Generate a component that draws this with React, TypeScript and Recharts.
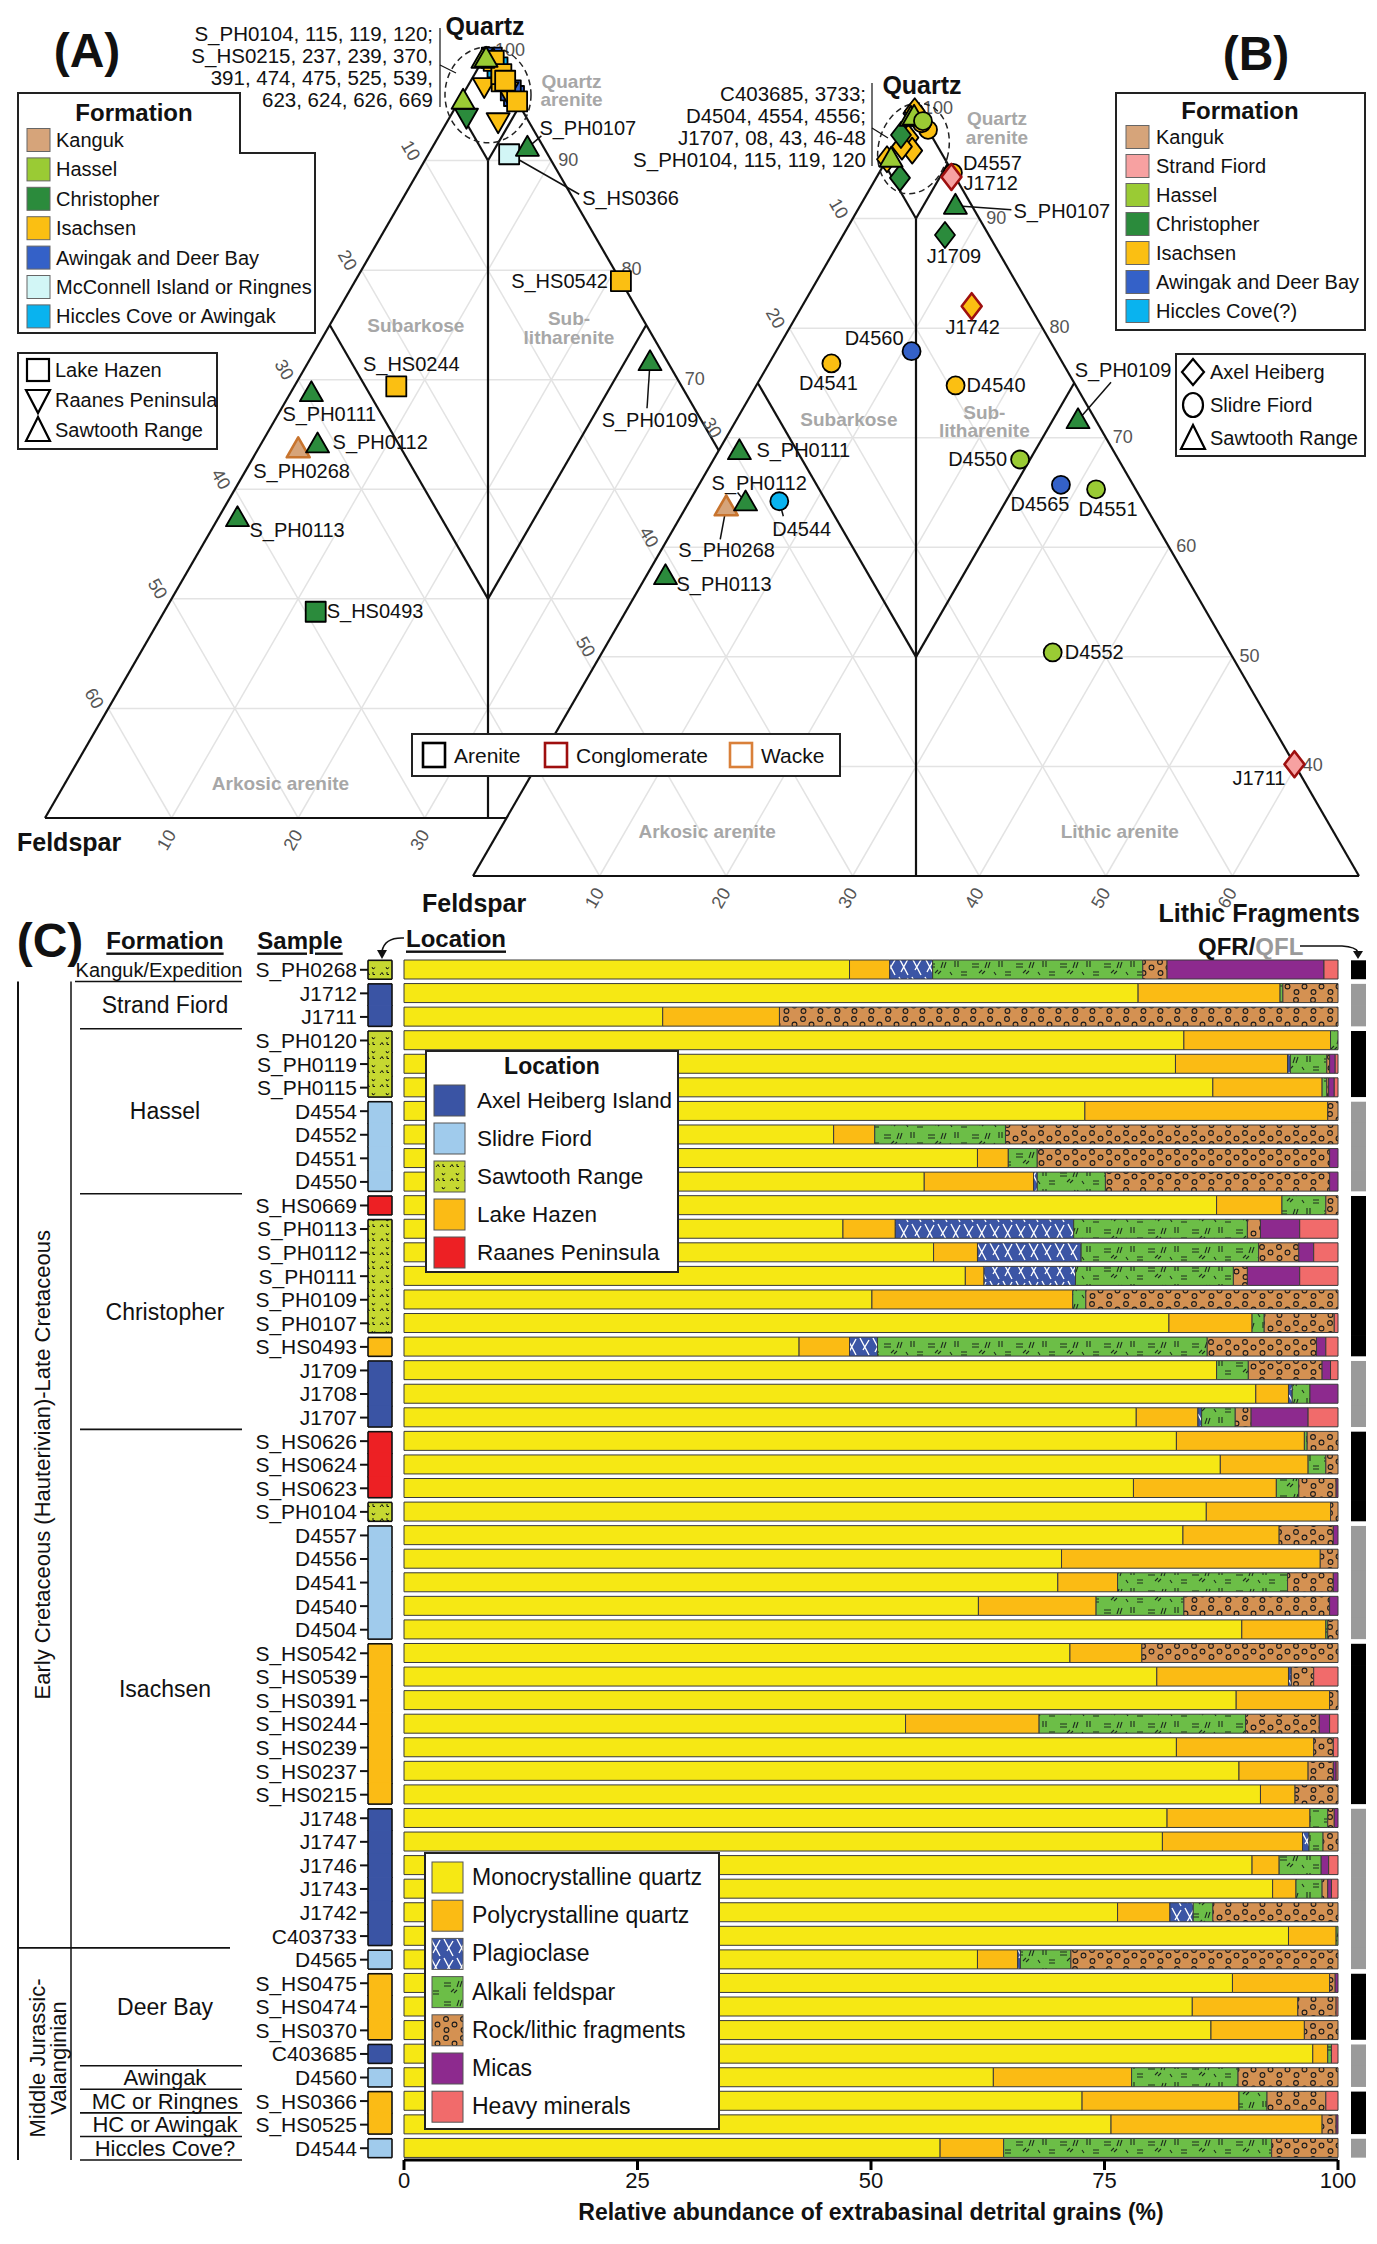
import React from "react";
import { BarChart, Bar, XAxis, YAxis, ComposedChart, Scatter, ReferenceLine, Area } from "recharts";

const FONT = "'Liberation Sans', Arial, Helvetica, sans-serif";

// ---------- panel C: samples, top to bottom ----------
const samples = [
  "S_PH0268", "J1712", "J1711", "S_PH0120", "S_PH0119", "S_PH0115", "D4554", "D4552", "D4551", "D4550",
  "S_HS0669", "S_PH0113", "S_PH0112", "S_PH0111", "S_PH0109", "S_PH0107", "S_HS0493", "J1709", "J1708", "J1707",
  "S_HS0626", "S_HS0624", "S_HS0623", "S_PH0104", "D4557", "D4556", "D4541", "D4540", "D4504", "S_HS0542",
  "S_HS0539", "S_HS0391", "S_HS0244", "S_HS0239", "S_HS0237", "S_HS0215", "J1748", "J1747", "J1746", "J1743",
  "J1742", "C403733", "D4565", "S_HS0475", "S_HS0474", "S_HS0370", "C403685", "D4560", "S_HS0366", "S_HS0525",
  "D4544",
];

// AH Axel Heiberg, SF Slidre Fiord, SR Sawtooth Range, LH Lake Hazen, RP Raanes Peninsula
const locations = [
  "SR", "AH", "AH", "SR", "SR", "SR", "SF", "SF", "SF", "SF",
  "RP", "SR", "SR", "SR", "SR", "SR", "LH", "AH", "AH", "AH",
  "RP", "RP", "RP", "SR", "SF", "SF", "SF", "SF", "SF", "LH",
  "LH", "LH", "LH", "LH", "LH", "LH", "AH", "AH", "AH", "AH",
  "AH", "AH", "SF", "LH", "LH", "LH", "AH", "SF", "LH", "LH",
  "SF",
];

const qfType = [
  "R", "L", "L", "R", "R", "R", "L", "L", "L", "L",
  "R", "R", "R", "R", "R", "R", "R", "L", "L", "L",
  "R", "R", "R", "R", "L", "L", "L", "L", "L", "R",
  "R", "R", "R", "R", "R", "R", "L", "L", "L", "L",
  "L", "L", "L", "R", "R", "R", "L", "L", "R", "R",
  "L",
];

const mono = [
  47.7, 78.6, 27.7, 83.5, 82.6, 86.6, 72.9, 46.0, 61.4, 55.7,
  87.0, 47.0, 56.7, 60.1, 50.1, 81.9, 42.3, 87.0, 91.2, 78.4,
  82.7, 87.4, 78.1, 85.9, 83.4, 70.4, 70.0, 61.5, 89.7, 71.3,
  80.6, 89.1, 53.7, 82.7, 89.4, 91.7, 81.7, 81.2, 90.8, 93.0,
  76.4, 94.7, 61.4, 88.7, 84.4, 86.4, 97.3, 63.1, 72.6, 75.7,
  57.4,
];
const poly = [
  4.3, 15.2, 12.5, 15.7, 12.0, 11.7, 26.0, 4.4, 3.3, 11.7,
  7.0, 5.6, 4.7, 2.0, 21.5, 8.9, 5.4, 0, 3.5, 6.6,
  13.7, 9.4, 15.3, 13.3, 10.3, 27.7, 6.4, 12.6, 9.0, 7.7,
  14.1, 10.0, 14.3, 14.7, 7.4, 3.7, 15.3, 15.0, 2.9, 2.5,
  5.6, 5.1, 4.3, 10.4, 11.3, 10.0, 1.6, 14.8, 16.8, 22.6,
  6.8,
];
const plag = [
  4.6, 0, 0, 0, 0.3, 0, 0, 0, 0, 0.4,
  0, 19.1, 11.1, 9.8, 0, 0, 3.0, 0, 0.4, 0.4,
  0, 0, 0, 0, 0, 0, 0, 0, 0, 0,
  0.3, 0, 0, 0, 0, 0, 0, 0.7, 0, 0,
  2.5, 0, 0.3, 0, 0, 0, 0, 0, 0, 0,
  0,
];
const alk = [
  22.5, 0.3, 0, 0.8, 3.9, 0.5, 0, 14.0, 3.1, 7.3,
  4.7, 18.6, 19.0, 16.9, 1.4, 1.3, 35.3, 3.4, 1.9, 3.6,
  0.3, 1.9, 2.4, 0, 0, 0, 18.2, 9.4, 0.2, 0,
  0, 0, 22.1, 0, 0, 0, 1.9, 1.5, 4.5, 2.8,
  2.1, 0.2, 5.4, 0, 0, 0, 0.4, 11.4, 3.0, 0,
  28.7,
];
const rock = [
  2.6, 5.9, 59.8, 0, 0.3, 0.2, 1.1, 35.6, 31.3, 24.0,
  1.3, 1.4, 4.3, 1.5, 27.0, 7.5, 11.7, 7.9, 0, 1.7,
  3.3, 1.3, 4.0, 0.8, 5.8, 1.9, 4.9, 15.6, 1.1, 21.0,
  2.4, 0.9, 7.9, 2.1, 2.7, 4.6, 0.7, 1.6, 0, 0.6,
  13.4, 0, 28.6, 0.6, 4.1, 3.6, 0, 10.7, 6.3, 1.5,
  7.1,
];
const mica = [
  16.8, 0, 0, 0, 0.6, 0.6, 0, 0, 0.9, 0.9,
  0, 4.2, 1.6, 5.6, 0, 0, 1.0, 0.9, 3.0, 6.1,
  0, 0, 0.2, 0, 0.5, 0, 0.5, 0.9, 0, 0,
  0, 0, 1.1, 0, 0.3, 0, 0.4, 0, 0.8, 0.4,
  0, 0, 0, 0.3, 0, 0, 0, 0, 0, 0.2,
  0,
];
const heavy = [
  1.5, 0, 0, 0, 0.3, 0.4, 0, 0, 0, 0,
  0, 4.1, 2.6, 4.1, 0, 0.4, 1.3, 0.8, 0, 3.2,
  0, 0, 0, 0, 0, 0, 0, 0, 0, 0,
  2.6, 0, 0.9, 0.5, 0.2, 0, 0, 0, 1.0, 0.7,
  0, 0, 0, 0, 0.2, 0, 0.7, 0, 1.3, 0,
  0,
];

// formation name, first row, last row
const formations: [string, number, number][] = [
  ["Kanguk/Expedition", 0, 0],
  ["Strand Fiord", 1, 2],
  ["Hassel", 3, 9],
  ["Christopher", 10, 19],
  ["Isachsen", 20, 41],
  ["Deer Bay", 42, 46],
  ["Awingak", 47, 47],
  ["MC or Ringnes", 48, 48],
  ["HC or Awingak", 49, 49],
  ["Hiccles Cove?", 50, 50],
];

const xTicks = [0, 25, 50, 75, 100];

const minerals = [
  { key: "mono", name: "Monocrystalline quartz", fill: "#f6e814", vals: mono },
  { key: "poly", name: "Polycrystalline quartz", fill: "#fbbb14", vals: poly },
  { key: "plag", name: "Plagioclase", fill: "url(#plag)", vals: plag },
  { key: "alk", name: "Alkali feldspar", fill: "url(#alk)", vals: alk },
  { key: "rock", name: "Rock/lithic fragments", fill: "url(#rock)", vals: rock },
  { key: "mica", name: "Micas", fill: "#8d2a8e", vals: mica },
  { key: "heavy", name: "Heavy minerals", fill: "#f16b6b", vals: heavy },
];

const LOC_FILL: Record<string, string> = { AH: "#3a54a4", SF: "#a0cbec", SR: "url(#saw)", LH: "#fbbb15", RP: "#ed2024" };
const LOC_NAME: [string, string][] = [["AH", "Axel Heiberg Island"], ["SF", "Slidre Fiord"], ["SR", "Sawtooth Range"], ["LH", "Lake Hazen"], ["RP", "Raanes Peninsula"]];
const QF_FILL: Record<string, string> = { R: "#000", L: "#9a9a9a" };

// ---------- ternary panels ----------
const FORM_KEY: Record<string, string> = {
  "Kanguk/Expedition": "Kanguk", "Strand Fiord": "Strand Fiord", Hassel: "Hassel", Christopher: "Christopher",
  Isachsen: "Isachsen", "Deer Bay": "Awingak and Deer Bay", Awingak: "Awingak and Deer Bay",
  "MC or Ringnes": "McConnell Island or Ringnes", "HC or Awingak": "Hiccles Cove or Awingak", "Hiccles Cove?": "Hiccles Cove(?)",
};
const FORM_COLOR: Record<string, string> = {
  Kanguk: "#d6a47a", "Strand Fiord": "#f7a1a1", Hassel: "#9acb34", Christopher: "#2b8b3c", Isachsen: "#fbbf12",
  "Awingak and Deer Bay": "#3461c8", "McConnell Island or Ringnes": "#d2f6f6", "Hiccles Cove or Awingak": "#09b3ef", "Hiccles Cove(?)": "#09b3ef",
};
// which formations are drawn on top where symbols pile up
const DRAW_ORDER: Record<string, number> = {
  "Awingak and Deer Bay": 0, "Hiccles Cove or Awingak": 0, "Hiccles Cove(?)": 0, "McConnell Island or Ringnes": 0,
  Isachsen: 1, Christopher: 2, Kanguk: 2, Hassel: 3, "Strand Fiord": 3,
};
const legendFormA = ["Kanguk", "Hassel", "Christopher", "Isachsen", "Awingak and Deer Bay", "McConnell Island or Ringnes", "Hiccles Cove or Awingak"];
const legendFormB = ["Kanguk", "Strand Fiord", "Hassel", "Christopher", "Isachsen", "Awingak and Deer Bay", "Hiccles Cove(?)"];

const conglomerate = ["J1712", "J1711", "J1742"];
const wacke = ["S_PH0268"];
const panelALocs = ["LH", "RP", "SR"];
const panelBLocs = ["AH", "SF", "SR"];
const gridLevels = [10, 20, 30, 40, 50, 60];
// tick labels shown on each panel (the rest of panel A lies under panel B)
const ticksA = { F: [10, 20, 30, 40, 50, 60], Q: [100, 90, 80, 70], L: [10, 20, 30] };
const ticksB = { F: [10, 20, 30, 40, 50], Q: [100, 90, 80, 70, 60, 50, 40], L: [10, 20, 30, 40, 50, 60] };

const listA = ["S_PH0104, 115, 119, 120;", "S_HS0215, 237, 239, 370,", "391, 474, 475, 525, 539,", "623, 624, 626, 669"];
const listB = ["C403685, 3733;", "D4504, 4554, 4556;", "J1707, 08, 43, 46-48", "S_PH0104, 115, 119, 120"];

// label offsets (px) per sample: dx, dy, anchor, leader end dx, dy
const labelA: Record<string, any[]> = {
  S_PH0107: [12, -20, "start", 14, -12],
  S_HS0366: [73, 44, "start", 70, 40],
  S_HS0542: [-13, 0, "end"],
  S_HS0244: [15, -22, "middle"],
  S_PH0109: [0, 58, "middle", -3, 46],
  S_PH0111: [-29, 21, "start"],
  S_PH0112: [15, -2, "start"],
  S_PH0268: [-45, 22, "start"],
  S_PH0113: [12, 12, "start"],
  S_HS0493: [11, -1, "start"],
};
const labelB: Record<string, any[]> = {
  D4557: [10, -10, "start"],
  J1712: [12, 6, "start"],
  S_PH0107: [58, 5, "start", 56, 4],
  J1709: [9, 21, "middle"],
  J1742: [1, 21, "middle"],
  D4560: [-8, -13, "end"],
  D4541: [-3, 20, "middle"],
  D4540: [11, 0, "start"],
  S_PH0109: [45, -50, "middle", 33, -38],
  D4550: [-13, 0, "end"],
  D4565: [-21, 19, "middle"],
  D4551: [12, 20, "middle"],
  S_PH0111: [17, -1, "start"],
  S_PH0112: [-34, -19, "start", -8, -10],
  S_PH0268: [-48, 43, "start", -6, 32],
  D4544: [-7, 28, "start", 4, 15],
  S_PH0113: [11, 8, "start"],
  D4552: [12, 0, "start"],
  J1711: [-9, 14, "end"],
};

// ternary -> cartesian
const S3 = Math.sqrt(3) / 2;
const TX = (q: number, l: number) => l + q / 2;
const TY = (q: number) => q * S3;
const P = (q: number, f: number, l: number) => ({ x: TX(q, l), y: TY(q) });

const fieldsA = [
  { t: ["Quartz", "arenite"], x: 56.6, y: 83.5 },
  { t: ["Subarkose"], x: 44.3, y: 64.9 },
  { t: ["Sub-", "litharenite"], x: 56.4, y: 64.7 },
  { t: ["Arkosic arenite"], x: 33.6, y: 28.7 },
];
const fieldsB = [
  { t: ["Quartz", "arenite"], x: 56.4, y: 85.1 },
  { t: ["Subarkose"], x: 44.7, y: 62.1 },
  { t: ["Sub-", "litharenite"], x: 55.4, y: 61.9 },
  { t: ["Arkosic arenite"], x: 33.5, y: 29.5 },
  { t: ["Lithic arenite"], x: 66.1, y: 29.5 },
];

const edges = [[P(100, 0, 0), P(30, 70, 0)], [P(100, 0, 0), P(30, 0, 70)], [P(30, 70, 0), P(30, 0, 70)]];
const fieldLines = [
  [P(95, 5, 0), P(90, 5, 5)], [P(95, 0, 5), P(90, 5, 5)], [P(90, 5, 5), P(30, 35, 35)],
  [P(75, 25, 0), P(50, 25, 25)], [P(75, 0, 25), P(50, 25, 25)],
];
const gridSegs: any[] = [];
gridLevels.forEach((v) => {
  gridSegs.push([P(100 - v, v, 0), P(100 - v, 0, v)]);
  gridSegs.push([P(100 - v, v, 0), P(30, v, 70 - v)]);
  gridSegs.push([P(100 - v, 0, v), P(30, 70 - v, v)]);
});
const tickDataOf = (tk: { F: number[]; Q: number[]; L: number[] }) => [
  ...tk.F.map((v) => ({ ...P(100 - v, v, 0), t: v, k: "F" })),
  ...tk.Q.map((v) => ({ ...P(v, 0, 100 - v), t: v, k: "Q" })),
  ...tk.L.map((v) => ({ ...P(30, 70 - v, v), t: v, k: "L" })),
];
const coverData = [P(30, 70, 0), P(100, 0, 0), P(30, 0, 70)];

const formationOfRow = (i: number) => formations.find(([, a, b]) => i >= a && i <= b)![0];
const ternPoints = (locs: string[]) =>
  samples
    .map((s, i) => ({ s, i }))
    .filter(({ i }) => locs.includes(locations[i]))
    .map(({ s, i }) => {
      const q = mono[i] + poly[i];
      const f = plag[i] + alk[i];
      const l = rock[i];
      const sum = q + f + l;
      const Q = (q / sum) * 100;
      const L = (l / sum) * 100;
      return {
        s, loc: locations[i], fm: FORM_KEY[formationOfRow(i)],
        rk: conglomerate.includes(s) ? "C" : wacke.includes(s) ? "W" : "A",
        x: TX(Q, L), y: TY(Q),
      };
    })
    .sort((a, b) => DRAW_ORDER[a.fm] - DRAW_ORDER[b.fm]);

const Marker = (p: any) => {
  const { cx, cy, payload: d } = p;
  const fill = FORM_COLOR[d.fm];
  const stroke = d.rk === "C" ? "#9e0f0f" : d.rk === "W" ? "#c8742e" : "#000";
  const sw = d.rk === "A" ? 1.8 : 2.6;
  const common = { fill, stroke, strokeWidth: sw, strokeLinejoin: "round" as const };
  if (d.loc === "LH") return <rect x={cx - 10} y={cy - 10} width={20} height={20} {...common} />;
  if (d.loc === "RP") return <polygon points={`${cx - 11.5},${cy - 8} ${cx + 11.5},${cy - 8} ${cx},${cy + 12}`} {...common} />;
  if (d.loc === "SR") return <polygon points={`${cx},${cy - 12} ${cx - 11.5},${cy + 8} ${cx + 11.5},${cy + 8}`} {...common} />;
  if (d.loc === "AH") return <polygon points={`${cx},${cy - 13} ${cx + 10},${cy} ${cx},${cy + 13} ${cx - 10},${cy}`} {...common} />;
  return <circle cx={cx} cy={cy} r={9} {...common} />;
};

const makeLabel = (spec: Record<string, any[]>) => (p: any) => {
  const { cx, cy, payload: d } = p;
  const sp = spec[d.s];
  if (!sp) return <g />;
  return (
    <g>
      {sp.length > 3 && <line x1={cx} y1={cy} x2={cx + sp[3]} y2={cy + sp[4]} stroke="#111" strokeWidth={1.5} />}
      <text x={cx + sp[0]} y={cy + sp[1]} textAnchor={sp[2]} dominantBaseline="central" fontSize={20} fontFamily={FONT} fill="#111">
        {d.s}
      </text>
    </g>
  );
};

const TickText = (p: any) => {
  const { cx, cy, payload: d } = p;
  const st = { fontSize: 18, fill: "#555", fontFamily: FONT };
  if (d.k === "F") {
    const x = cx - 14, y = cy - 10;
    return <text x={x} y={y} transform={`rotate(60 ${x} ${y})`} textAnchor="middle" dominantBaseline="central" {...st}>{d.t}</text>;
  }
  if (d.k === "Q") return <text x={cx + 7} y={cy - 1} textAnchor="start" dominantBaseline="central" {...st}>{d.t}</text>;
  const x = cx - 5, y = cy + 22;
  return <text x={x} y={y} transform={`rotate(-60 ${x} ${y})`} textAnchor="middle" dominantBaseline="central" {...st}>{d.t}</text>;
};

const FieldText = (p: any) => {
  const { cx, cy, payload: d } = p;
  const n = d.t.length;
  return (
    <text x={cx} y={cy} textAnchor="middle" fontSize={19} fontWeight={700} fill="#a7a7a7" fontFamily={FONT}>
      {d.t.map((s: string, k: number) => (
        <tspan key={k} x={cx} y={cy + (k - (n - 1) / 2) * 18.5} dominantBaseline="central">{s}</tspan>
      ))}
    </text>
  );
};

const EllipseShape = (p: any) => {
  const { cx, cy, payload: d } = p;
  return <ellipse cx={cx} cy={cy} rx={d.rx} ry={d.ry} transform={`rotate(${d.rot} ${cx} ${cy})`} fill="none" stroke="#222" strokeWidth={1.5} strokeDasharray="6 4" />;
};

function Ternary({ pts, labels, fields, ticks, ell, cover, W, H, margin }: any) {
  return (
    <ComposedChart width={W} height={H} margin={margin}>
      <XAxis type="number" dataKey="x" domain={[15, 85]} hide />
      <YAxis type="number" dataKey="y" domain={[TY(30), TY(100)]} hide />
      {cover && (
        <Area data={coverData} dataKey="y" type="linear" stroke="none" fill="#ffffff" fillOpacity={1} baseValue="dataMin" isAnimationActive={false} />
      )}
      {gridSegs.map((s: any, k: number) => (
        <ReferenceLine key={"g" + k} segment={s} stroke="#e3e3e3" strokeWidth={1.5} ifOverflow="visible" />
      ))}
      {[...edges, ...fieldLines].map((s: any, k: number) => (
        <ReferenceLine key={"e" + k} segment={s} stroke="#111" strokeWidth={2.2} ifOverflow="visible" />
      ))}
      <Scatter data={fields} dataKey="y" shape={FieldText} isAnimationActive={false} />
      <Scatter data={tickDataOf(ticks)} dataKey="y" shape={TickText} isAnimationActive={false} />
      <Scatter data={[ell]} dataKey="y" shape={EllipseShape} isAnimationActive={false} />
      <Scatter data={pts.filter((d: any) => labels[d.s])} dataKey="y" shape={makeLabel(labels)} isAnimationActive={false} />
      <Scatter data={pts} dataKey="y" shape={Marker} isAnimationActive={false} />
    </ComposedChart>
  );
}

// ---------- panel C geometry ----------
const C_TOP = 900;
const C_H = 2244 - C_TOP;
const ROW_TOP = 958;
const ROW_BOTTOM = 2160;
const ROW_H = (ROW_BOTTOM - ROW_TOP) / samples.length;
const rowEdge = (k: number) => ROW_TOP + k * ROW_H;

const table = samples.map((s, i) => {
  const r: any = { sample: s, i, one: 1 };
  minerals.forEach((m) => (r[m.key] = m.vals[i]));
  return r;
});

const groupShape = (keys: string[], fills: Record<string, string>, outline: boolean) => (p: any) => {
  const i = p.payload.i;
  const first = i === 0 || keys[i - 1] !== keys[i];
  const last = i === keys.length - 1 || keys[i + 1] !== keys[i];
  const g = 2.3;
  const x0 = p.x, x1 = p.x + p.width;
  const y0 = p.y + (first ? g : 0);
  const y1 = p.y + p.height - (last ? g : -0.8);
  const st = { stroke: "#111", strokeWidth: 1.6 };
  return (
    <g>
      <rect x={x0} y={y0} width={p.width} height={y1 - y0} fill={fills[keys[i]]} />
      {outline && <line x1={x0} y1={y0} x2={x0} y2={y1} {...st} />}
      {outline && <line x1={x1} y1={y0} x2={x1} y2={y1} {...st} />}
      {outline && first && <line x1={x0} y1={y0} x2={x1} y2={y0} {...st} />}
      {outline && last && <line x1={x0} y1={y1} x2={x1} y2={y1} {...st} />}
    </g>
  );
};

function MainBars() {
  return (
    <BarChart width={1377} height={C_H} data={table} layout="vertical" margin={{ top: ROW_TOP - C_TOP, right: 39, bottom: 24, left: 404 }}>
      <YAxis type="category" dataKey="sample" hide width={0} />
      <XAxis
        type="number"
        domain={[0, 100]}
        ticks={xTicks}
        height={60}
        axisLine={{ stroke: "#000", strokeWidth: 3 }}
        tickLine={{ stroke: "#000", strokeWidth: 3 }}
        tickSize={10}
        tick={{ fontSize: 22, fill: "#111", fontFamily: FONT }}
        label={{ value: "Relative abundance of extrabasinal detrital grains (%)", position: "insideBottom", offset: 0, style: { fontSize: 23, fontWeight: 700, fill: "#111", fontFamily: FONT } }}
      />
      {minerals.map((m) => (
        <Bar key={m.key} dataKey={m.key} stackId="a" fill={m.fill} stroke="#3a3a3a" strokeWidth={1} barSize={19} isAnimationActive={false} />
      ))}
    </BarChart>
  );
}

function LocationColumn() {
  return (
    <BarChart width={400} height={C_H} data={table} layout="vertical" margin={{ top: ROW_TOP - C_TOP, right: 8, bottom: C_H - (ROW_BOTTOM - C_TOP), left: 160 }}>
      <XAxis type="number" domain={[0, 1]} hide />
      <YAxis
        type="category"
        dataKey="sample"
        width={208}
        interval={0}
        axisLine={false}
        tickSize={8}
        tickMargin={3}
        tickLine={{ stroke: "#111", strokeWidth: 2 }}
        tick={{ fontSize: 21, fill: "#111", fontFamily: FONT }}
      />
      <Bar dataKey="one" barSize={ROW_H - 0.05} isAnimationActive={false} shape={groupShape(locations, LOC_FILL, true)} />
    </BarChart>
  );
}

function QfColumn() {
  return (
    <BarChart width={37} height={C_H} data={table} layout="vertical" margin={{ top: ROW_TOP - C_TOP, right: 11, bottom: C_H - (ROW_BOTTOM - C_TOP), left: 11 }}>
      <XAxis type="number" domain={[0, 1]} hide />
      <YAxis type="category" dataKey="sample" hide width={0} />
      <Bar dataKey="one" barSize={ROW_H - 0.05} isAnimationActive={false} shape={groupShape(qfType, QF_FILL, false)} />
    </BarChart>
  );
}

function PatternDefs() {
  return (
    <svg width={0} height={0} style={{ position: "absolute" }}>
      <defs>
        <pattern id="plag" width="26" height="19" patternUnits="userSpaceOnUse">
          <rect width="26" height="19" fill="#3b55a5" />
          <path d="M2 1 L11 18 M11 3 L5 13 M15 1 L24 18 M24 2 L17 15" stroke="#fff" strokeWidth="1.4" />
        </pattern>
        <pattern id="alk" width="44" height="19" patternUnits="userSpaceOnUse">
          <rect width="44" height="19" fill="#6cbe47" />
          <path d="M4 7 h7 M4 10 h7 M19 5 l-2 6 M22 5 l-2 6 M31 4 v6 M34 4 v6 M11 16 l3 -3 M14 17 l3 -3 M37 15 h6 M37 18 h6 M26 15 l2 3" stroke="#1d2d1d" strokeWidth="1.1" fill="none" />
        </pattern>
        <pattern id="rock" width="17" height="19" patternUnits="userSpaceOnUse">
          <rect width="17" height="19" fill="#d49152" />
          <circle cx="4" cy="5" r="2.4" fill="none" stroke="#1a1a1a" strokeWidth="1.1" />
          <circle cx="12.5" cy="10.5" r="2.4" fill="none" stroke="#1a1a1a" strokeWidth="1.1" />
          <circle cx="4.5" cy="16" r="2.4" fill="none" stroke="#1a1a1a" strokeWidth="1.1" />
        </pattern>
        <pattern id="saw" width="14" height="14" patternUnits="userSpaceOnUse">
          <rect width="14" height="14" fill="#c6d831" />
          <path d="M2 5 l2 -2.5 l1.5 2.5 M8 11 l1 2 l2.2 -1.5 M9 2 v2.5 h2" stroke="#111" strokeWidth="1" fill="none" />
        </pattern>
      </defs>
    </svg>
  );
}

const T = (props: any) => <text fontFamily={FONT} dominantBaseline="central" fill="#111" {...props} />;

function MarkerIcon({ kind, x, y, fill = "#fff", stroke = "#000" }: any) {
  const st = { fill, stroke, strokeWidth: 2.2 };
  if (kind === "LH") return <rect x={x - 11} y={y - 11} width={22} height={22} {...st} />;
  if (kind === "RP") return <polygon points={`${x - 12},${y - 10} ${x + 12},${y - 10} ${x},${y + 13}`} {...st} />;
  if (kind === "SR") return <polygon points={`${x},${y - 13} ${x - 12},${y + 11} ${x + 12},${y + 11}`} {...st} />;
  if (kind === "AH") return <polygon points={`${x},${y - 13} ${x + 11},${y} ${x},${y + 13} ${x - 11},${y}`} {...st} />;
  return <ellipse cx={x} cy={y} rx={10} ry={12} {...st} />;
}

function Overlay() {
  const formA = legendFormA.map((n, k) => ({ n, y: 140 + k * 29.4 }));
  const formB = legendFormB.map((n, k) => ({ n, y: 137 + k * 29 }));
  return (
    <svg width={1377} height={2244} style={{ position: "absolute", left: 0, top: 0 }}>
      {/* panel labels */}
      <T x={87} y={50} fontSize={48} fontWeight={700} textAnchor="middle">(A)</T>
      <T x={1256} y={53} fontSize={48} fontWeight={700} textAnchor="middle">(B)</T>
      <T x={485} y={26} fontSize={25} fontWeight={700} textAnchor="middle">Quartz</T>
      <T x={922} y={85} fontSize={25} fontWeight={700} textAnchor="middle">Quartz</T>
      <T x={17} y={842} fontSize={25} fontWeight={700}>Feldspar</T>
      <T x={422} y={903} fontSize={25} fontWeight={700}>Feldspar</T>
      <T x={1360} y={913} fontSize={25} fontWeight={700} textAnchor="end">Lithic Fragments</T>

      {/* cluster sample lists */}
      {listA.map((s, k) => (
        <T key={s} x={433} y={33 + k * 22} fontSize={20.5} textAnchor="end">{s}</T>
      ))}
      <line x1={440} y1={28} x2={440} y2={107} stroke="#111" strokeWidth={1.2} />
      <line x1={440} y1={65} x2={456} y2={73} stroke="#111" strokeWidth={1.2} />
      {listB.map((s, k) => (
        <T key={s} x={866} y={93 + k * 22} fontSize={20.5} textAnchor="end">{s}</T>
      ))}
      <line x1={872} y1={83} x2={872} y2={166} stroke="#111" strokeWidth={1.2} />
      <line x1={872} y1={128} x2={888} y2={138} stroke="#111" strokeWidth={1.2} />

      {/* formation legend A */}
      <polygon points="18,93 240,93 240,153 315,153 315,333 18,333" fill="#fff" stroke="#222" strokeWidth={2} />
      <T x={134} y={112} fontSize={24} fontWeight={700} textAnchor="middle">Formation</T>
      {formA.map(({ n, y }) => (
        <g key={n}>
          <rect x={27} y={y - 11.5} width={23} height={23} fill={FORM_COLOR[n]} stroke="#666" strokeWidth={1} />
          <T x={56} y={y} fontSize={20}>{n}</T>
        </g>
      ))}
      {/* location symbols A */}
      <rect x={18} y={353} width={199} height={96} fill="#fff" stroke="#222" strokeWidth={2} />
      {[["LH", "Lake Hazen"], ["RP", "Raanes Peninsula"], ["SR", "Sawtooth Range"]].map(([k, n], j) => (
        <g key={k}>
          <MarkerIcon kind={k} x={38} y={370 + j * 30} />
          <T x={55} y={370 + j * 30} fontSize={20}>{n}</T>
        </g>
      ))}

      {/* lithology legend */}
      <rect x={412} y={734} width={428} height={42} fill="#fff" stroke="#222" strokeWidth={2} />
      {[["#000", "Arenite", 423], ["#9e0f0f", "Conglomerate", 545], ["#d9803a", "Wacke", 730]].map(([c, n, x]: any) => (
        <g key={n}>
          <rect x={x} y={743} width={22} height={24} fill="#fff" stroke={c} strokeWidth={2.6} />
          <T x={x + 31} y={755} fontSize={21}>{n}</T>
        </g>
      ))}

      {/* formation legend B */}
      <rect x={1116} y={93} width={249} height={237} fill="#fff" stroke="#222" strokeWidth={2} />
      <T x={1240} y={110} fontSize={24} fontWeight={700} textAnchor="middle">Formation</T>
      {formB.map(({ n, y }) => (
        <g key={n}>
          <rect x={1126} y={y - 11.5} width={23} height={23} fill={FORM_COLOR[n]} stroke="#666" strokeWidth={1} />
          <T x={1156} y={y} fontSize={20}>{n}</T>
        </g>
      ))}
      <rect x={1176} y={354} width={189} height={102} fill="#fff" stroke="#222" strokeWidth={2} />
      {[["AH", "Axel Heiberg"], ["SF", "Slidre Fiord"], ["SR", "Sawtooth Range"]].map(([k, n], j) => (
        <g key={k}>
          <MarkerIcon kind={k} x={1193} y={372 + j * 33} />
          <T x={1210} y={372 + j * 33} fontSize={20}>{n}</T>
        </g>
      ))}

      {/* panel C headers */}
      <T x={50} y={940} fontSize={48} fontWeight={700} textAnchor="middle">(C)</T>
      <T x={165} y={940} fontSize={24} fontWeight={700} textAnchor="middle" style={{ textDecoration: "underline" }}>Formation</T>
      <T x={300} y={940} fontSize={24} fontWeight={700} textAnchor="middle" style={{ textDecoration: "underline" }}>Sample</T>
      <T x={406} y={938} fontSize={24} fontWeight={700} style={{ textDecoration: "underline" }}>Location</T>
      <path d="M404 938 Q385 937 382 951" fill="none" stroke="#111" strokeWidth={1.6} />
      <polygon points="377,950 387,950 382,959" fill="#111" />
      <T x={1198} y={946} fontSize={24} fontWeight={700}>
        QFR/<tspan fill="#9a9a9a">QFL</tspan>
      </T>
      <path d="M1300 946 L1342 946 Q1356 947 1358 952" fill="none" stroke="#111" strokeWidth={1.6} />
      <polygon points="1353,951 1363,951 1358,959" fill="#111" />

      {/* formation column */}
      <line x1={18} y1={rowEdge(1)} x2={18} y2={rowEdge(samples.length)} stroke="#111" strokeWidth={2} />
      <line x1={71} y1={rowEdge(1)} x2={71} y2={rowEdge(samples.length)} stroke="#111" strokeWidth={1.5} />
      {formations.map(([name, a, b], k) => {
        const y0 = rowEdge(a);
        const y1 = rowEdge(b + 1);
        const isA = name === "Isachsen";
        const fs = k === 0 ? 20 : a === b ? 22 : 23;
        return (
          <g key={name}>
            <T x={k === 0 ? 159 : 165} y={(y0 + y1) / 2} fontSize={fs} textAnchor="middle">{name}</T>
            <line x1={isA ? 18 : k === 0 ? 75 : 80} x2={isA ? 230 : 242} y1={y1} y2={y1} stroke="#111" strokeWidth={1.6} />
          </g>
        );
      })}
      <T x={43} y={(rowEdge(1) + rowEdge(42)) / 2} fontSize={22} textAnchor="middle" transform={`rotate(-90 43 ${(rowEdge(1) + rowEdge(42)) / 2})`}>
        Early Cretaceous (Hauterivian)-Late Cretaceous
      </T>
      <T x={37} y={2058} fontSize={22} textAnchor="middle" transform="rotate(-90 37 2058)">Middle Jurassic-</T>
      <T x={58} y={2058} fontSize={22} textAnchor="middle" transform="rotate(-90 58 2058)">Valanginian</T>

      {/* location legend */}
      <rect x={426} y={1051} width={252} height={221} fill="#fff" stroke="#222" strokeWidth={2} />
      <T x={552} y={1066} fontSize={23} fontWeight={700} textAnchor="middle">Location</T>
      {LOC_NAME.map(([k, n], j) => (
        <g key={k}>
          <rect x={434} y={1085 + j * 38} width={31} height={31} fill={LOC_FILL[k]} stroke="#555" strokeWidth={1} />
          <T x={477} y={1100 + j * 38} fontSize={22.5}>{n}</T>
        </g>
      ))}

      {/* mineral legend */}
      <rect x={425} y={1853} width={294} height={276} fill="#fff" stroke="#222" strokeWidth={2} />
      {minerals.map((m, j) => (
        <g key={m.key}>
          <rect x={432} y={1862 + j * 38.2} width={31} height={31} fill={m.fill} stroke="#555" strokeWidth={1} />
          <T x={472} y={1877 + j * 38.2} fontSize={23}>{m.name}</T>
        </g>
      ))}
    </svg>
  );
}

export default function App() {
  const ptsA = ternPoints(panelALocs);
  const ptsB = ternPoints(panelBLocs);
  const ellA = { ...P(96, 2, 2), rx: 43, ry: 48, rot: 0 };
  const ellB = { ...P(96.4, 2, 1.6), rx: 35, ry: 46, rot: 15 };
  return (
    <div style={{ position: "absolute", left: 0, top: 0, width: 1377, height: 2244, background: "#fff", overflow: "hidden", fontFamily: FONT }}>
      <PatternDefs />
      <div style={{ position: "absolute", left: 0, top: 0 }}>
        <Ternary pts={ptsA} labels={labelA} fields={fieldsA} ticks={ticksA} ell={ellA} cover={false} W={950} H={900} margin={{ top: 51, left: 45, right: 19, bottom: 82 }} />
      </div>
      <div style={{ position: "absolute", left: 0, top: 0 }}>
        <Ternary pts={ptsB} labels={labelB} fields={fieldsB} ticks={ticksB} ell={ellB} cover={true} W={1377} H={950} margin={{ top: 109, left: 473, right: 18, bottom: 74 }} />
      </div>
      <div style={{ position: "absolute", left: 0, top: C_TOP }}>
        <MainBars />
      </div>
      <div style={{ position: "absolute", left: 0, top: C_TOP }}>
        <LocationColumn />
      </div>
      <div style={{ position: "absolute", left: 1340, top: C_TOP }}>
        <QfColumn />
      </div>
      <Overlay />
    </div>
  );
}
